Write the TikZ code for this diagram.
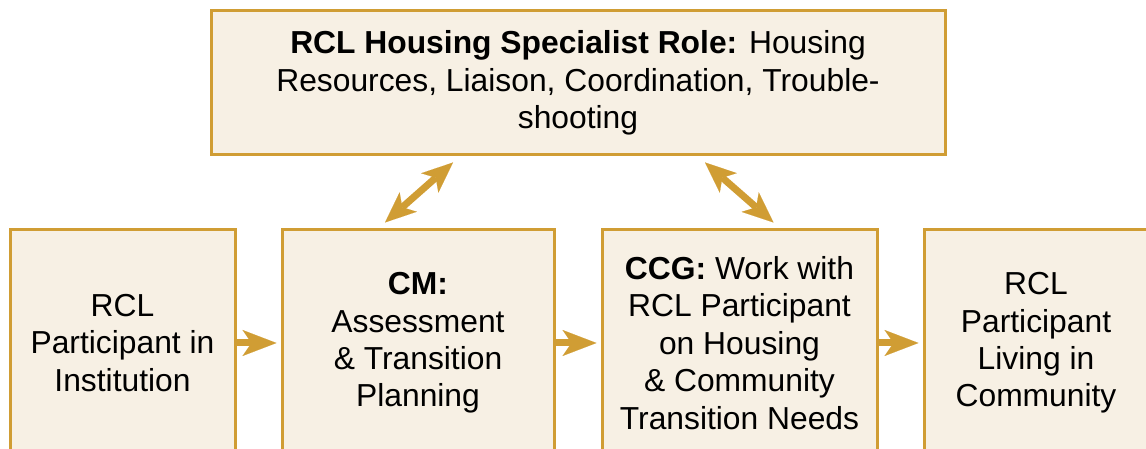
\documentclass[tikz,border=0pt]{standalone}
\usepackage{fontspec}
\setmainfont{Liberation Sans}
\usepackage{tikz}
\usetikzlibrary{arrows.meta}
\definecolor{gold}{RGB}{208,157,52}
\definecolor{cream}{RGB}{247,240,228}
\tikzstyle{block}=[draw=gold, fill=cream, line width=3pt, align=center, minimum height=226pt, font=\fontsize{31.8}{37.4}\selectfont]
\tikzstyle{arrow}=[-{Stealth[length=34pt,width=26pt,inset=9pt,line width=0.1pt]}, line width=7pt, draw=gold, shorten >=4pt]
\tikzstyle{link}=[{Stealth[length=31pt,width=26pt,inset=8pt,line width=0.1pt]}-{Stealth[length=31pt,width=26pt,inset=8pt,line width=0.1pt]}, line width=7pt, draw=gold]

\begin{document}
\begin{tikzpicture}[x=1pt, y=1pt]
      \useasboundingbox (0,0) rectangle (1146,449);
      \clip (0,0) rectangle (1146,449);

      \node [block, minimum width=734pt, minimum height=144pt] (role) at (578,366) {\textbf{RCL Housing Specialist Role:} Housing\\ Resources, Liaison, Coordination, Trouble-\\ shooting};

      \node [block, minimum width=225pt] (institution) at (122.5,106) {RCL\\ Participant in\\ Institution};
      \node [block, minimum width=272pt] (cm) at (418,106) {\textbf{CM:}\\ Assessment\\ \& Transition\\ Planning};
      \node [block, minimum width=275pt] (ccg) at (739.5,106) {\textbf{CCG:} Work with\\ RCL Participant\\ on Housing\\ \& Community\\ Transition Needs};
      \node [block, minimum width=224pt] (community) at (1036,106) {RCL\\ Participant\\ Living in\\ Community};

      \draw [arrow] (institution) -- (cm);
      \draw [arrow] (cm) -- (ccg);
      \draw [arrow] (ccg) -- (community);
      \draw [link] ([xshift=-33pt,yshift=6pt]cm.north) -- ([xshift=-125pt,yshift=-6pt]role.south);
      \draw [link] ([xshift=34pt,yshift=6pt]ccg.north) -- ([xshift=127pt,yshift=-6pt]role.south);
    \end{tikzpicture}
\end{document}
